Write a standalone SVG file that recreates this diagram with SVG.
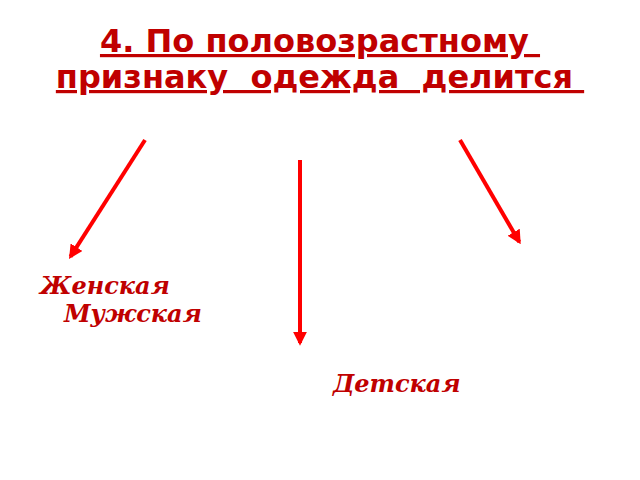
<svg xmlns="http://www.w3.org/2000/svg" width="640" height="480" viewBox="0 0 640 480">
<style>
.title{font-family:"DejaVu Sans",sans-serif;font-weight:bold;font-size:32px;fill:#c00000;text-decoration:underline;white-space:pre}
.lbl{font-family:"DejaVu Serif",serif;font-weight:bold;font-style:italic;font-size:24px;fill:#c00000}
.arr{stroke:#ff0000;stroke-width:4;fill:none;marker-end:url(#ah)}
</style>
<defs>
<marker id="ah" viewBox="0 0 10 10" refX="8" refY="5" markerWidth="3.5" markerHeight="3.5" orient="auto" markerUnits="strokeWidth">
<path d="M0,0 L10,5 L0,10 z" fill="#ff0000"/>
</marker>
</defs>
<rect width="640" height="480" fill="#ffffff"/>
<g id="title">
<text class="title" x="320" y="52" text-anchor="middle" xml:space="preserve">4. По половозрастному </text>
<text class="title" x="320" y="88" text-anchor="middle" xml:space="preserve">признаку  одежда  делится </text>
</g>
<g id="connectors">
<line class="arr" x1="145" y1="140" x2="70.5" y2="256.6"/>
<line class="arr" x1="300" y1="160" x2="300" y2="343"/>
<line class="arr" x1="460" y1="140" x2="519.3" y2="241.9"/>
</g>
<g id="women"><text class="lbl" x="40" y="294">Женская</text></g>
<g id="men"><text class="lbl" x="64" y="322">Мужская</text></g>
<g id="kids"><text class="lbl" x="333" y="392">Детская</text></g>
</svg>
